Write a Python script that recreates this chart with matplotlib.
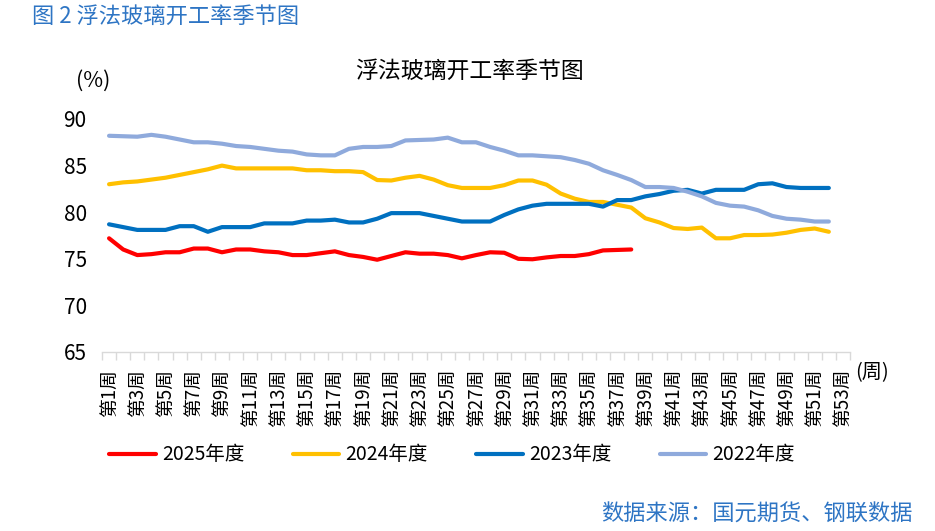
import matplotlib
matplotlib.use("Agg")
import matplotlib.pyplot as plt
import numpy as np
from matplotlib.ticker import FixedLocator

plt.rcParams['font.family'] = ['Noto Sans CJK SC', 'DejaVu Sans']

weeks = list(range(1, 54))
week_labels = [f"第{k}周" for k in weeks]

y2025 = [77.2, 76.0, 75.4, 75.5, 75.7, 75.7, 76.1, 76.1, 75.7, 76.0,
         76.0, 75.8, 75.7, 75.4, 75.4, 75.6, 75.8, 75.4, 75.2, 74.9,
         75.3, 75.7, 75.55, 75.55, 75.4, 75.05, 75.4, 75.7, 75.65, 75.0,
         74.95, 75.15, 75.3, 75.3, 75.5, 75.9, 75.95, 76.0]

y2024 = [83.0, 83.2, 83.3, 83.5, 83.7, 84.0, 84.3, 84.6, 85.0, 84.7,
         84.7, 84.7, 84.7, 84.7, 84.5, 84.5, 84.4, 84.4, 84.3, 83.45,
         83.4, 83.7, 83.9, 83.5, 82.9, 82.6, 82.6, 82.6, 82.9, 83.4,
         83.4, 82.95, 82.0, 81.45, 81.1, 81.1, 80.8, 80.5, 79.35, 78.9,
         78.3, 78.2, 78.35, 77.2, 77.2, 77.55, 77.55, 77.6, 77.8, 78.1,
         78.25, 77.9]

y2023 = [78.7, 78.4, 78.1, 78.1, 78.1, 78.5, 78.5, 77.9, 78.4, 78.4,
         78.4, 78.8, 78.8, 78.8, 79.1, 79.1, 79.2, 78.9, 78.9, 79.3,
         79.9, 79.9, 79.9, 79.6, 79.3, 79.0, 79.0, 79.0, 79.7, 80.3,
         80.7, 80.9, 80.9, 80.9, 80.9, 80.6, 81.3, 81.3, 81.7, 81.95,
         82.3, 82.4, 82.0, 82.4, 82.4, 82.4, 83.0, 83.1, 82.7, 82.6,
         82.6, 82.6]

y2022 = [88.2, 88.15, 88.1, 88.3, 88.1, 87.8, 87.5, 87.5, 87.35, 87.1,
         87.0, 86.8, 86.6, 86.5, 86.2, 86.1, 86.1, 86.8, 87.0, 87.0,
         87.1, 87.7, 87.75, 87.8, 88.0, 87.5, 87.5, 87.0, 86.6, 86.1,
         86.1, 86.0, 85.9, 85.6, 85.2, 84.5, 84.0, 83.45, 82.7, 82.7,
         82.6, 82.2, 81.7, 81.0, 80.7, 80.6, 80.2, 79.6, 79.3, 79.2,
         79.0, 79.0]

series = [
    ("2025年度", y2025, "#FF0000"),
    ("2024年度", y2024, "#FFC000"),
    ("2023年度", y2023, "#0070C0"),
    ("2022年度", y2022, "#8FAADC"),
]

fig = plt.figure(figsize=(9.35, 5.31), dpi=100)
ax = fig.add_axes([102/935, 1-352/531, (850-102)/935, (352-119)/531])

for name, vals, color in series:
    x = weeks[:len(vals)]
    ax.plot(x, vals, color=color, lw=3, label=name,
            solid_capstyle='round', solid_joinstyle='round')

ax.set_xlim(0.5, 53.5)
ax.set_ylim(65, 90)
ax.set_yticks([65, 70, 75, 80, 85, 90])
ax.tick_params(axis='y', length=0, pad=11, labelsize=15)

ax.set_xticks(weeks[::2])
ax.set_xticklabels(week_labels[::2], rotation=90)
ax.xaxis.set_minor_locator(FixedLocator(np.arange(0.5, 54, 1.0)))
ax.tick_params(axis='x', which='major', length=0, pad=12, labelsize=13.5)
ax.tick_params(axis='x', which='minor', length=6, width=1, color='#D9D9D9')

for s in ['top', 'right', 'left']:
    ax.spines[s].set_visible(False)
ax.spines['bottom'].set_color('#D9D9D9')
ax.spines['bottom'].set_linewidth(1)

fig.text(470/935, 1-71/531, "浮法玻璃开工率季节图", ha='center', va='center', fontsize=16.5)
fig.text(93/935, 1-81/531, "(%)", ha='center', va='center', fontsize=15.5)
fig.text(855/935, 1-373/531, "(周)", ha='left', va='center', fontsize=14.5)
fig.text(32/935, 1-16/531, "图 2 浮法玻璃开工率季节图", ha='left', va='center',
         fontsize=16, color='#2E75C4')
fig.text(913/935, 1-514/531, "数据来源：国元期货、钢联数据", ha='right', va='center',
         fontsize=16, color='#2E75C4')

leg = fig.legend(loc='center', bbox_to_anchor=(452/935, 1-455/531), ncol=4,
                 frameon=False, fontsize=14, handlelength=2.4, handletextpad=0.3,
                 columnspacing=2.5)

fig.savefig("out.png", dpi=100)
